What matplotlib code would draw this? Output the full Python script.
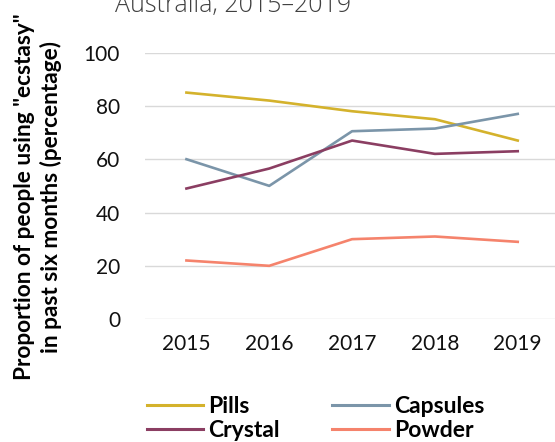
import matplotlib.pyplot as plt
from matplotlib.lines import Line2D

# Data
years = ["2015", "2016", "2017", "2018", "2019"]
pills = [85, 82, 78, 75, 67]
capsules = [60, 50, 70.5, 71.5, 77]
crystal = [49, 56.5, 67, 62, 63]
powder = [22, 20, 30, 31, 29]

series_names = ["Pills", "Capsules", "Crystal", "Powder"]
colors = ["#D4B22C", "#7B95A9", "#8B3E62", "#F5836C"]

plt.rcParams["font.family"] = ["Lato", "DejaVu Sans"]

fig = plt.figure(figsize=(5.55, 4.42), dpi=100)
ax = fig.add_axes([0.2613, 0.278, 0.7387, 0.603])

x = range(len(years))
for vals, c in zip([pills, capsules, crystal, powder], colors):
    ax.plot(x, vals, color=c, lw=1.9, solid_joinstyle="round")

ax.set_xlim(-0.5, 4.45)
ax.set_ylim(0, 100)
ax.set_yticks([0, 20, 40, 60, 80, 100])
ax.set_xticks(list(x))
ax.set_xticklabels(years)
ax.grid(axis="y", color="#D9D9D9", lw=1.0)
ax.set_axisbelow(True)
for s in ax.spines.values():
    s.set_visible(False)
ax.tick_params(length=0, labelsize=15, colors="#111111")
ax.tick_params(axis="y", pad=18)
ax.tick_params(axis="x", pad=11)

# y label (two lines, bold)
fig.text(0.068, 0.554, 'Proportion of people using "ecstasy"\nin past six months (percentage)',
         rotation=90, rotation_mode="anchor", ha="center", va="center",
         fontsize=16.3, fontweight="bold", linespacing=1.28)

# title, partly cut off at the top
fig.text(0.42, 0.973, "Australia, 2015\u20132019", ha="center", va="baseline",
         fontsize=18, color="#404040", fontweight="light",
         family=["Open Sans", "DejaVu Sans"])

# legend, filled column by column so rows read Pills/Capsules, Crystal/Powder
order = [0, 2, 1, 3]
handles = [Line2D([], [], color=colors[i], lw=2.2) for i in order]
labels = [series_names[i] for i in order]
leg = fig.legend(handles, labels, loc="center left", bbox_to_anchor=(0.265, 0.053),
                 ncol=2, frameon=False, handlelength=2.45, handletextpad=0.22,
                 columnspacing=2.3, labelspacing=0.12, borderpad=0, borderaxespad=0,
                 prop={"weight": "bold", "size": 16.5})

fig.savefig("out.png", dpi=100)
